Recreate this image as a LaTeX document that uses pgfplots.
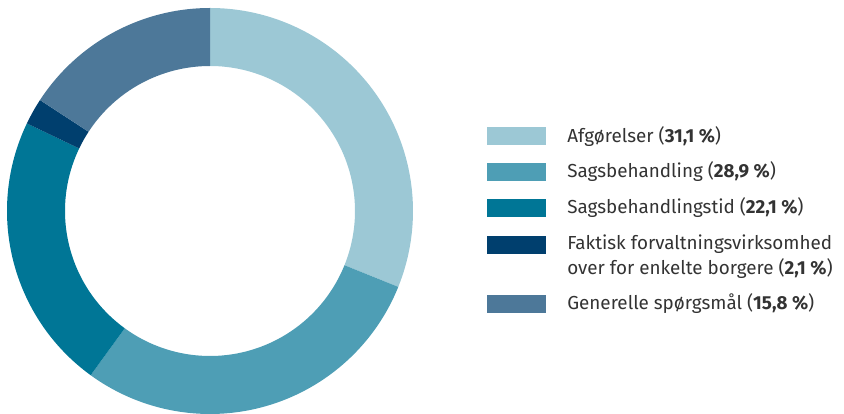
\documentclass[border=0pt]{standalone}
\usepackage{fontspec}
\setmainfont{Fira Sans}
\usepackage{pgfplots}
\usepackage{pgfplotstable}
\pgfplotsset{compat=1.18}
\definecolor{cA}{HTML}{9CC8D5}
\definecolor{cB}{HTML}{4E9EB5}
\definecolor{cC}{HTML}{007696}
\definecolor{cD}{HTML}{003F6E}
\definecolor{cE}{HTML}{4D7899}
\definecolor{txt}{HTML}{333333}

% shares in percent, clockwise from 12 o'clock
\pgfplotstableread{
value
31.1
28.9
22.1
2.1
15.8
}\shares

\begin{document}
\begin{tikzpicture}
% cumulative angles
\pgfmathsetmacro\angA{90}
\pgfplotstablegetelem{0}{value}\of\shares \pgfmathsetmacro\angB{\angA-3.6*\pgfplotsretval}
\pgfplotstablegetelem{1}{value}\of\shares \pgfmathsetmacro\angC{\angB-3.6*\pgfplotsretval}
\pgfplotstablegetelem{2}{value}\of\shares \pgfmathsetmacro\angD{\angC-3.6*\pgfplotsretval}
\pgfplotstablegetelem{3}{value}\of\shares \pgfmathsetmacro\angE{\angD-3.6*\pgfplotsretval}
\pgfplotstablegetelem{4}{value}\of\shares \pgfmathsetmacro\angF{\angE-3.6*\pgfplotsretval}
\def\cx{210}\def\cy{203}\def\ro{203}\def\ri{145}
\newcommand\sector[3]{%
  \fill[#1] (axis cs:{\cx+\ro*cos(#2)},{\cy+\ro*sin(#2)})
    arc[start angle=#2, end angle=#3, radius=\ro*0.025cm]
    -- (axis cs:{\cx+\ri*cos(#3)},{\cy+\ri*sin(#3)})
    arc[start angle=#3, end angle=#2, radius=\ri*0.025cm] -- cycle;}
\newcommand\swatch[3]{%
  \fill[#1] (axis cs:487,{414-#2}) rectangle (axis cs:546,{414-#3});}
\begin{axis}[
    x=0.025cm, y=0.025cm,
    xmin=0, xmax=844, ymin=0, ymax=414,
    hide axis,
    clip=false,
]
\sector{cA}{\angA}{\angB}
\sector{cB}{\angB}{\angC}
\sector{cC}{\angC}{\angD}
\sector{cD}{\angD}{\angE}
\sector{cE}{\angE}{\angF}

\swatch{cA}{127}{145}
\swatch{cB}{163}{181}
\swatch{cC}{199}{217}
\swatch{cD}{236}{254}
\swatch{cE}{295}{313}

\begin{scope}[every node/.style={anchor=base west, inner sep=0pt, font=\fontsize{13.4}{16}\selectfont, text=txt}]
\node at (axis cs:567,271) {Afgørelser (\textbf{31,1 \%})};
\node at (axis cs:567,236) {Sagsbehandling (\textbf{28,9 \%})};
\node at (axis cs:567,200) {Sagsbehandlingstid (\textbf{22,1 \%})};
\node at (axis cs:567,164) {Faktisk forvaltningsvirksomhed};
\node at (axis cs:567,139) {over for enkelte borgere (\textbf{2,1 \%})};
\node at (axis cs:567,104) {Generelle spørgsmål (\textbf{15,8 \%})};
\end{scope}
\end{axis}
\pgfresetboundingbox
\useasboundingbox (current axis.south west) rectangle (current axis.north east);
\end{tikzpicture}
\end{document}
